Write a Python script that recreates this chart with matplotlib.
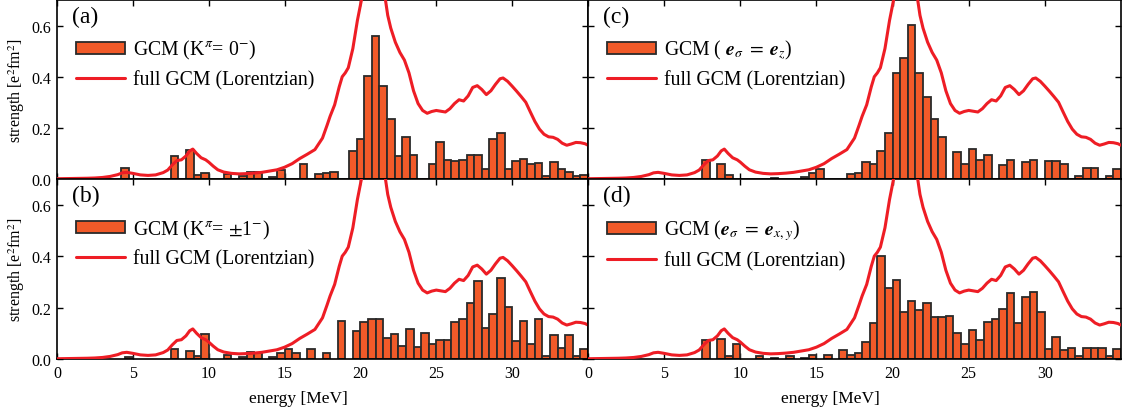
import matplotlib
matplotlib.use("Agg")
import matplotlib.pyplot as plt

plt.rcParams['font.family'] = ['Liberation Serif', 'DejaVu Serif']
plt.rcParams['mathtext.fontset'] = 'stix'

# ---------------- data ----------------
bin_width = 0.5

a_centers = [4.5, 7.75, 8.75, 9.25, 9.75, 11.25, 12.25, 12.75, 13.25, 14.25, 14.75, 16.25,
             17.25, 17.75, 18.25, 19.5, 20.0, 20.5, 21.0, 21.5, 22.0, 22.5, 23.0, 23.5,
             24.75, 25.25, 25.75, 26.25, 26.75, 27.25, 27.75, 28.25, 28.75, 29.25, 29.75,
             30.25, 30.75, 31.25, 31.75, 32.25, 32.75, 33.25, 33.75, 34.25, 34.75]
a_heights = [0.043, 0.091, 0.113, 0.016, 0.022, 0.019, 0.013, 0.026, 0.026, 0.006, 0.034, 0.057,
             0.018, 0.025, 0.027, 0.110, 0.156, 0.402, 0.561, 0.364, 0.233, 0.091, 0.165, 0.094,
             0.058, 0.146, 0.075, 0.069, 0.074, 0.095, 0.092, 0.040, 0.156, 0.181, 0.041,
             0.069, 0.080, 0.058, 0.061, 0.013, 0.067, 0.041, 0.029, 0.013, 0.017]

b_centers = [4.75, 7.75, 8.75, 9.25, 9.75, 11.25, 12.25, 12.75, 13.25, 14.25, 14.75, 15.25,
             15.75, 16.75, 17.75, 18.75, 19.75, 20.25, 20.75, 21.25, 21.75, 22.25, 22.75,
             23.25, 23.75, 24.25, 24.75, 25.25, 25.75, 26.25, 26.75, 27.25, 27.75, 28.25,
             28.75, 29.25, 29.75, 30.25, 30.75, 31.25, 31.75, 32.25, 32.75, 33.25, 33.75,
             34.25, 34.75]
b_heights = [0.009, 0.038, 0.030, 0.013, 0.097, 0.016, 0.006, 0.029, 0.022, 0.006, 0.022, 0.038,
             0.023, 0.038, 0.025, 0.146, 0.110, 0.145, 0.156, 0.156, 0.080, 0.097, 0.052,
             0.117, 0.045, 0.101, 0.057, 0.074, 0.075, 0.145, 0.156, 0.218, 0.302, 0.119,
             0.175, 0.314, 0.203, 0.069, 0.146, 0.060, 0.154, 0.013, 0.095, 0.041, 0.093,
             0.013, 0.039]

c_centers = [7.75, 8.75, 9.25, 12.25, 14.25, 14.75, 15.25, 17.25, 17.75, 18.25, 18.75, 19.25,
             19.75, 20.25, 20.75, 21.25, 21.75, 22.25, 22.75, 23.25, 24.25, 24.75, 25.25,
             25.75, 26.25, 27.25, 27.75, 28.75, 29.25, 30.25, 30.75, 31.25, 32.25, 32.75,
             33.25, 34.25, 34.75]
c_heights = [0.074, 0.060, 0.016, 0.003, 0.006, 0.023, 0.039, 0.018, 0.024, 0.066, 0.059, 0.110,
             0.181, 0.415, 0.473, 0.604, 0.415, 0.320, 0.234, 0.165, 0.104, 0.059, 0.117,
             0.076, 0.095, 0.053, 0.073, 0.066, 0.076, 0.070, 0.069, 0.060, 0.013, 0.043,
             0.043, 0.013, 0.039]

d_centers = [7.75, 8.75, 9.25, 9.75, 11.25, 12.25, 13.25, 14.25, 14.75, 15.75, 16.75, 17.25,
             17.75, 18.25, 18.75, 19.25, 19.75, 20.25, 20.75, 21.25, 21.75, 22.25, 22.75,
             23.25, 23.75, 24.25, 24.75, 25.25, 25.75, 26.25, 26.75, 27.25, 27.75, 28.25,
             28.75, 29.25, 29.75, 30.25, 30.75, 31.25, 31.75, 32.25, 32.75, 33.25, 33.75,
             34.25, 34.75]
d_heights = [0.074, 0.078, 0.013, 0.058, 0.013, 0.004, 0.013, 0.004, 0.017, 0.017, 0.036, 0.016,
             0.023, 0.065, 0.139, 0.400, 0.275, 0.306, 0.182, 0.227, 0.191, 0.219, 0.162,
             0.162, 0.167, 0.101, 0.058, 0.114, 0.075, 0.145, 0.156, 0.194, 0.255, 0.140,
             0.242, 0.262, 0.181, 0.039, 0.087, 0.034, 0.041, 0.013, 0.041, 0.041, 0.041,
             0.013, 0.039]

# full GCM Lorentzian curve (same in all panels)
lor_energy = [0.0, 1.0, 2.0, 2.5, 3.0, 3.5, 4.0, 4.3, 4.6, 5.0, 5.5, 6.0, 6.5, 7.0, 7.3, 7.6,
              7.9, 8.2, 8.5, 8.75, 8.95, 9.2, 9.5, 9.8, 10.0, 10.3, 10.6, 11.0, 11.5, 12.0,
              12.5, 13.0, 13.5, 14.0, 14.5, 15.0, 15.5, 16.0, 16.5, 17.0, 17.5, 17.8, 18.0,
              18.3, 18.6, 18.8, 19.0, 19.2, 19.5, 19.8, 20.1, 20.5, 20.9, 21.2, 21.5, 21.8,
              22.0, 22.3, 22.6, 22.9, 23.2, 23.5, 23.8, 24.1, 24.4, 24.7, 25.0, 25.3, 25.6,
              25.9, 26.2, 26.5, 26.8, 27.1, 27.4, 27.7, 28.0, 28.3, 28.6, 28.9, 29.2, 29.4,
              29.7, 30.0, 30.3, 30.6, 30.9, 31.2, 31.5, 31.8, 32.1, 32.4, 32.7, 33.0, 33.3,
              33.6, 33.9, 34.2, 34.5, 34.8, 35.0]
lor_strength = [0.001, 0.002, 0.003, 0.004, 0.006, 0.010, 0.017, 0.024, 0.026, 0.022, 0.016,
                0.014, 0.016, 0.025, 0.035, 0.055, 0.072, 0.075, 0.090, 0.110, 0.117, 0.100,
                0.083, 0.075, 0.066, 0.050, 0.036, 0.027, 0.022, 0.020, 0.021, 0.023, 0.026,
                0.031, 0.036, 0.046, 0.060, 0.080, 0.097, 0.115, 0.160, 0.210, 0.245, 0.290,
                0.360, 0.400, 0.415, 0.435, 0.510, 0.620, 0.710, 0.850, 0.950, 0.900, 0.760,
                0.640, 0.590, 0.535, 0.495, 0.465, 0.415, 0.345, 0.295, 0.268, 0.257, 0.264,
                0.268, 0.265, 0.262, 0.275, 0.295, 0.310, 0.305, 0.325, 0.358, 0.365, 0.350,
                0.330, 0.345, 0.370, 0.392, 0.395, 0.382, 0.363, 0.343, 0.322, 0.300, 0.262,
                0.225, 0.195, 0.175, 0.165, 0.163, 0.155, 0.140, 0.132, 0.137, 0.143, 0.142,
                0.138, 0.132]

panel_tags = ['(a)', '(b)', '(c)', '(d)']
bar_labels = [r'GCM (K$^{\pi}$= 0$^{-}$)',
              r'GCM (K$^{\pi}$= $\pm$1$^{-}$)',
              r'GCM ( $\boldsymbol{e}_{\sigma}\;=\;\boldsymbol{e}_{z}$)',
              r'GCM ($\boldsymbol{e}_{\sigma}\;=\;\boldsymbol{e}_{x,y}$)']
line_label = 'full GCM (Lorentzian)'
xticks = [0, 5, 10, 15, 20, 25, 30]
yticks = [0.0, 0.2, 0.4, 0.6]

# ---------------- figure ----------------
W, H = 1123, 410
fig = plt.figure(figsize=(W / 100, H / 100), dpi=100)

def rect(x0, y0, x1, y1):
    return [x0 / W, 1 - y1 / H, (x1 - x0) / W, (y1 - y0) / H]

ax_a = fig.add_axes(rect(57, 1, 588, 180))
ax_b = fig.add_axes(rect(57, 180, 588, 360))
ax_c = fig.add_axes(rect(588, 1, 1121, 180))
ax_d = fig.add_axes(rect(588, 180, 1121, 360))

bar_color = '#F15A29'
edge_color = '#2a2a2a'
line_color = '#EE1D25'

panels = [(ax_a, a_centers, a_heights), (ax_b, b_centers, b_heights),
          (ax_c, c_centers, c_heights), (ax_d, d_centers, d_heights)]

for i, (ax, cen, hts) in enumerate(panels):
    bars = ax.bar(cen, hts, width=bin_width, color=bar_color, edgecolor=edge_color,
                  linewidth=1.3, zorder=2)
    line, = ax.plot(lor_energy, lor_strength, color=line_color, lw=2.2,
                    zorder=3, solid_capstyle='round')
    ax.set_xlim(0, 35)
    ax.set_ylim(0, 0.7)
    ax.set_xticks(xticks)
    ax.set_yticks(yticks)
    ax.tick_params(direction='in', top=True, right=True, length=4.5, width=1.0,
                   labelsize=11.5, pad=4)
    for sp in ax.spines.values():
        sp.set_linewidth(1.2)
    ax.text(0.028, 0.965, panel_tags[i], transform=ax.transAxes, fontsize=17,
            ha='left', va='top')
    ax.legend([bars, line], [bar_labels[i], line_label],
              loc='upper left', bbox_to_anchor=(0.02, 0.83), frameon=False,
              fontsize=14.2, handlelength=2.5, handleheight=0.55,
              handletextpad=0.4, labelspacing=0.45, borderaxespad=0.0)

for ax in (ax_a, ax_c):
    ax.tick_params(labelbottom=False)
for ax in (ax_c, ax_d):
    ax.tick_params(labelleft=False)
for ax in (ax_a, ax_b):
    ax.yaxis.set_major_formatter(matplotlib.ticker.FormatStrFormatter('%.1f'))
    ax.set_ylabel(r'strength [e$^{2}$fm$^{2}$]', fontsize=11.5, labelpad=3)
for ax in (ax_b, ax_d):
    ax.set_xlabel('energy [MeV]', fontsize=12.5, labelpad=2)
    ax.xaxis.set_label_coords(0.455, -0.17)

fig.savefig('out.png', dpi=100)
